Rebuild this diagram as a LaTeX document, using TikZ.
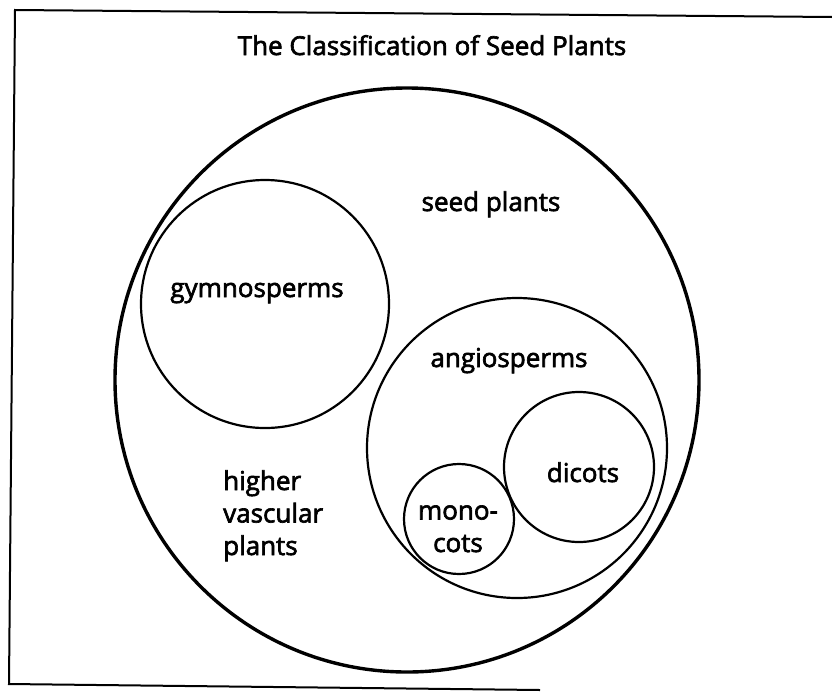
\documentclass[tikz,border=0pt]{standalone}
\usepackage{fontspec}
\setmainfont{Open Sans}
\newfontfamily\rotfont{Open Sans}[FakeBold=2.5]
\usetikzlibrary{positioning}

\begin{document}
\begin{tikzpicture}[
  x=1pt, y=-1pt,
  conjunto/.style={draw, circle, line width=2.2pt, inner sep=0pt},
  universo/.style={conjunto, line width=3.4pt},
  rotulo/.style={font=\rotfont\fontsize{26}{32.5}\selectfont, inner sep=0pt, anchor=base},
  moldura/.style={line width=2pt, line join=miter}
]
\useasboundingbox (0,0) rectangle (832,691);

% frame (right side cut off in the scan)
\coordinate (cantoA) at (832,17);
\coordinate (cantoB) at (15,10);
\coordinate (cantoC) at (9,684);
\coordinate (cantoD) at (540,690);
\draw[moldura] (cantoA) -- (cantoB) -- (cantoC) -- (cantoD);

% sets
\node[universo, minimum size=584pt] (sementes) at (407,380) {};
\node[conjunto, minimum size=248pt] (gimno)    at (265,304) {};
\node[conjunto, minimum size=300pt] (angio)    at (517,448) {};
\node[conjunto, minimum size=150pt] (dicot)    at (579,467) {};
\node[conjunto, minimum size=110pt] (monocot)  at (459,519) {};

% labels (multi-line ones sit on their last line)
\node[rotulo] (titulo) at (432,55)  {The Classification of Seed Plants};
\node[rotulo] (lsem)   at (491,211) {seed plants};
\node[rotulo] (lgim)   at (257,297) {gymnosperms};
\node[rotulo] (lang)   at (509,367) {angiosperms};
\node[rotulo] (ldic)   at (583,482) {dicots};
\node[rotulo, align=center] (lmono) at (458,552) {mono-\\cots};
\node[rotulo, align=left, anchor=base west] (lsup) at (223,555) {higher\\vascular\\plants};

\end{tikzpicture}
\end{document}
